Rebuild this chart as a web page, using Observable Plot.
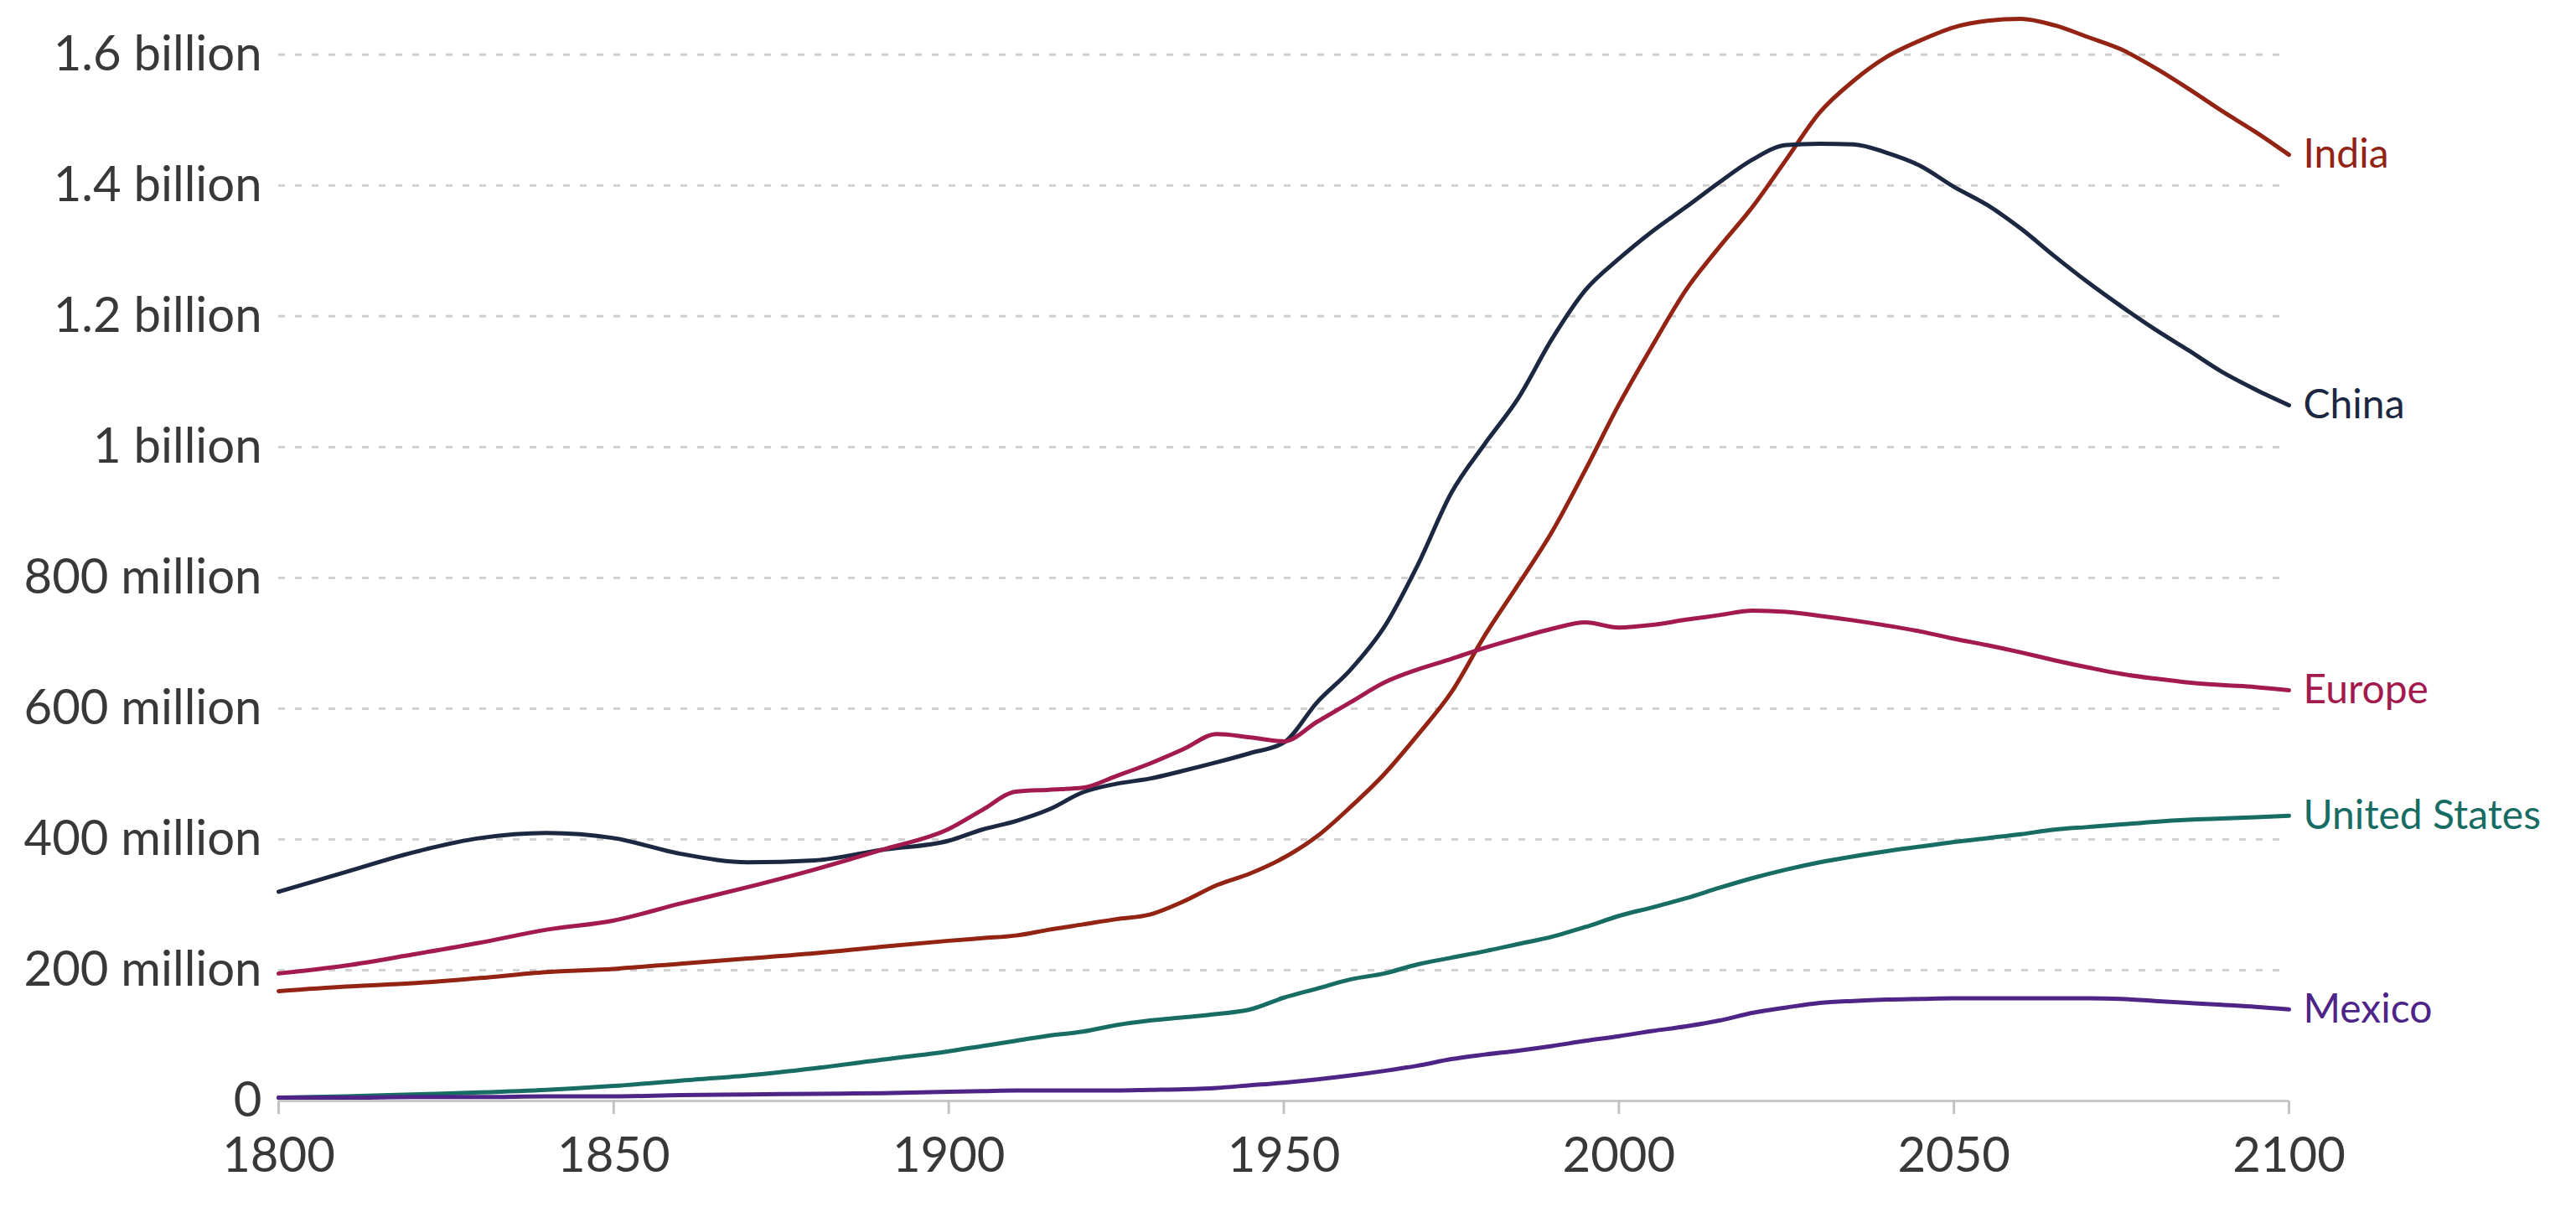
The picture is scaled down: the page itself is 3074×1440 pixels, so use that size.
<!DOCTYPE html>
<html><head><meta charset="utf-8">
<script src="https://cdn.jsdelivr.net/npm/d3@7"></script>
<script src="https://cdn.jsdelivr.net/npm/@observablehq/plot@0.6"></script>
<style>html,body{margin:0;padding:0;background:#fff;overflow:hidden;}</style>
</head><body><div id="chart"></div>
<script>
// Years (10-year steps to 1890, then 5-year steps)
const years = [1800,1810,1820,1830,1840,1850,1860,1870,1880,1890,
  1900,1905,1910,1915,1920,1925,1930,1935,1940,1945,1950,
  1955,1960,1965,1970,1975,1980,1985,1990,1995,2000,
  2005,2010,2015,2020,2025,2030,2035,2040,2045,2050,
  2055,2060,2065,2070,2075,2080,2085,2090,2095,2100];

// Population, millions
const india = [168,175,180,188,197,202,210,218,226,236,
  245,249,253,262,270,278,285,305,330,348,372,
  405,450,500,560,625,712,790,870,965,1065,
  1155,1240,1306,1368,1440,1512,1560,1597,1622,1642,
  1652,1655,1645,1627,1608,1580,1548,1514,1482,1447];
const china = [320,350,380,402,410,402,378,365,368,384,
  398,415,428,446,472,485,493,505,518,532,548,
  610,660,725,820,930,1005,1075,1165,1240,1288,
  1330,1367,1405,1440,1462,1464,1463,1450,1430,1398,
  1370,1334,1292,1252,1215,1180,1148,1115,1088,1064];
const europe = [195,207,224,242,262,276,302,327,354,384,
  416,445,473,476,479,497,516,538,561,556,550,
  580,610,640,660,676,693,708,722,732,724,
  728,736,743,750,748,742,735,727,718,707,
  697,686,674,663,653,646,640,636,633,628];
const unitedStates = [5,7,10,13,17,23,31,39,50,63,
  76,84,92,100,106,116,123,128,133,140,158,
  172,186,195,209,219,229,240,251,266,283,
  296,310,326,341,354,365,374,382,389,396,
  402,408,415,419,423,427,430,432,434,436];
const mexico = [5,5,6,6,7,7,9,10,11,12,
  14,15,16,16,16,16,17,18,20,24,28,
  33,39,46,54,64,71,77,84,92,99,
  107,114,123,135,143,150,153,155,156,157,
  157,157,157,157,156,153,150,147,144,140];

const seriesNames = ["India","China","Europe","United States","Mexico"];
const seriesColors = ["#932414","#1c2841","#a31b4e","#176c63","#4e2587"];
const seriesValues = [india, china, europe, unitedStates, mexico];

const xTicks = [1800,1850,1900,1950,2000,2050,2100];
const yTicks = [0,200,400,600,800,1000,1200,1400,1600];
const yTickLabels = ["0","200 million","400 million","600 million","800 million","1 billion","1.2 billion","1.4 billion","1.6 billion"];

const rows = seriesNames.flatMap((name, s) => years.map((year, i) => ({name, year, value: seriesValues[s][i]})));
const lastRows = seriesNames.map((name, s) => ({name, year: years[years.length-1], value: seriesValues[s][years.length-1]}));

const chart = Plot.plot({
  width: 3074,
  height: 1440,
  marginLeft: 332,
  marginRight: 343,
  marginTop: 18,
  marginBottom: 127,
  style: {fontFamily: "Lato, sans-serif", background: "#fff", overflow: "visible"},
  x: {domain: [1800, 2100]},
  y: {domain: [0, 1660]},
  color: {domain: seriesNames, range: seriesColors},
  marks: [
    Plot.ruleY(yTicks.filter(d => d > 0), {stroke: "#d0d0d0", strokeWidth: 3, strokeDasharray: "8,12"}),
    Plot.ruleY([0], {stroke: "#c8c8c8", strokeWidth: 3}),
    Plot.axisX(xTicks, {tickSize: 16, tickPadding: 27, fontSize: 58, fill: "#383838", stroke: "#c2c2c2", strokeWidth: 3, label: null, tickFormat: d => String(d)}),
    Plot.axisY(yTicks, {tickSize: 0, tickPadding: 20, fontSize: 58, fill: "#383838", label: null, tickFormat: d => yTickLabels[yTicks.indexOf(d)]}),
    Plot.line(rows, {x: "year", y: "value", z: "name", stroke: "name", strokeWidth: 5, curve: "monotone-x"}),
    Plot.text(lastRows, {x: "year", y: "value", text: "name", fill: "name", textAnchor: "start", dx: 17, fontSize: 48})
  ]
});
document.getElementById("chart").appendChild(chart);
</script></body></html>
